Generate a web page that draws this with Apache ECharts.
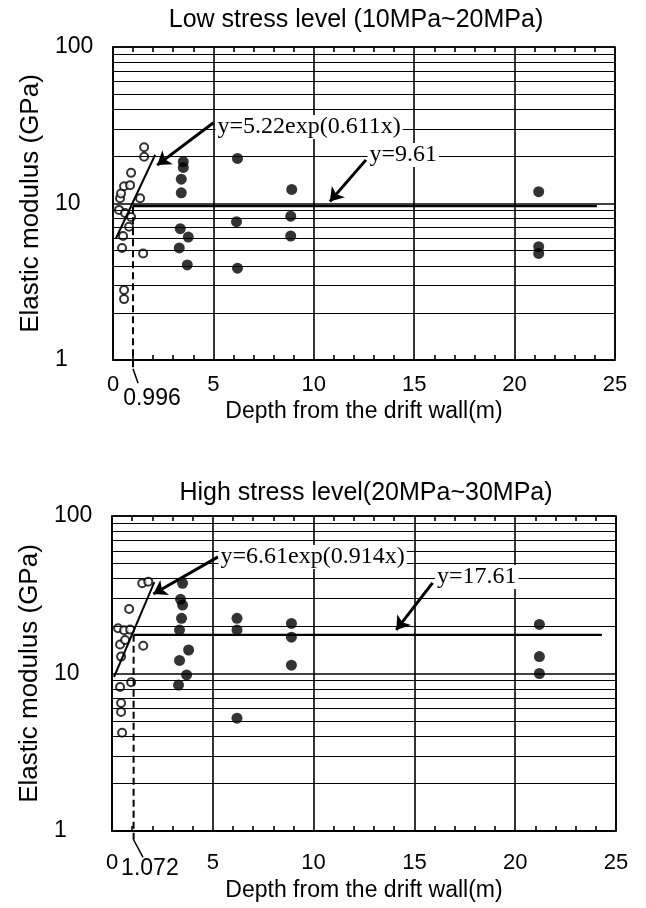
<!DOCTYPE html>
<html lang="en">
<head>
    <meta charset="UTF-8">
    <title>Elastic modulus vs depth</title>
</head>
<script src="https://cdn.jsdelivr.net/npm/echarts@6/dist/echarts.min.js"></script>
<body style="margin:0;background:#fff">
<div id="main" style="height: 908px;width: 646px"></div>
<script type="text/javascript">
    // ---- data ----
    var xTicks = [0, 5, 10, 15, 20, 25];
    var xGrid = [5, 10, 15, 20];
    var xMinor = [1, 2, 3, 4, 6, 7, 8, 9, 11, 12, 13, 14, 16, 17, 18, 19, 21, 22, 23, 24];
    var yTicks = [1, 10, 100];
    var logGrid = [2, 3, 4, 5, 6, 7, 8, 9, 20, 30, 40, 50, 60, 70, 80, 90];

    // low stress level
    var lowOpen = [[0.3, 9.1], [0.35, 10.8], [0.4, 11.6], [0.55, 12.9], [0.85, 13.1], [0.9, 15.7],
        [1.55, 22.9], [1.55, 19.9], [1.35, 10.8], [0.6, 8.7], [0.9, 8.2], [0.8, 7.1],
        [0.5, 6.2], [0.45, 5.2], [1.5, 4.8], [0.55, 2.8], [0.55, 2.45]];
    var lowFilled = [[3.5, 18.5], [3.5, 17.0], [3.4, 14.3], [3.4, 11.7], [3.35, 6.9], [3.75, 6.1],
        [3.3, 5.2], [3.7, 4.05], [6.2, 19.4], [6.15, 7.65], [6.2, 3.86], [8.9, 12.3],
        [8.85, 8.3], [8.85, 6.2], [21.2, 11.9], [21.2, 5.3], [21.2, 4.8]];
    var lowFit = [[0.15, 6.0], [2.1, 20.5]];
    var lowMean = 9.61;
    var lowMeanX = [0.996, 24.1];
    var lowCross = 0.996;

    // high stress level
    var highOpen = [[1.5, 37.4], [1.8, 38.3], [0.85, 25.7], [0.3, 19.4], [0.6, 18.8], [0.9, 19.0],
        [0.4, 15.3], [0.65, 16.3], [1.55, 15.0], [0.45, 12.8], [0.4, 8.2], [0.95, 8.8],
        [0.45, 6.5], [0.45, 5.7], [0.5, 4.2]];
    var highFilled = [[3.5, 37.4], [3.4, 29.6], [3.5, 27.2], [3.45, 22.4], [3.35, 18.9], [3.8, 14.1],
        [3.35, 12.1], [3.7, 9.8], [3.3, 8.45], [6.2, 22.4], [6.2, 18.9], [6.2, 5.2],
        [8.9, 20.8], [8.9, 17.0], [8.9, 11.3], [21.2, 20.5], [21.2, 12.8], [21.2, 10.0]];
    var highFit = [[0.1, 9.5], [2.1, 38.0]];
    var highMean = 17.61;
    var highMeanX = [1.072, 24.3];
    var highCross = 1.072;

    var titles = ['Low stress level (10MPa~20MPa)', 'High stress level(20MPa~30MPa)'];
    var fitText = ['y=5.22exp(0.611x)', 'y=6.61exp(0.914x)'];
    var meanText = ['y=9.61', 'y=17.61'];
    var crossText = ['0.996', '1.072'];

    // annotation anchors (data coords)
    var fitLabelAt = [[5.08, 30.8], [5.26, 55]];
    var fitArrow = [[[5.0, 32.8], [2.2, 17.6]], [[5.26, 55], [2.05, 32]]];
    var meanLabelAt = [[12.65, 20.4], [16.0, 41]];
    var meanArrow = [[[12.6, 19], [10.8, 10.3]], [[15.9, 37.6], [14.1, 18.9]]];
    var crossLabelAt = [[1.94, 0.57], [1.88, 0.58]];
    var crossLeader = [[0.88, 1.25, 0.71], [0.88, 1.54, 0.68]];

    var SANS = 'Liberation Sans';
    var SERIF = 'Liberation Serif';

    var myChart = echarts.init(document.getElementById('main'));

    var grids = [
        {left: 113, top: 47, width: 502, height: 313, show: true, borderColor: '#000', borderWidth: 1.5},
        {left: 112, top: 516, width: 504, height: 315, show: true, borderColor: '#000', borderWidth: 1.5}
    ];
    var labelMargin = [14, 21];
    var nameGap = [40, 48];

    var xAxes = [], yAxes = [], series = [];
    [0, 1].forEach(function (g) {
        xAxes.push({
            type: 'value', gridIndex: g, min: 0, max: 25, interval: 5, position: 'bottom',
            name: 'Depth from the drift wall(m)', nameLocation: 'middle', nameGap: nameGap[g],
            nameTextStyle: {fontFamily: SANS, fontSize: 23, color: '#000'},
            axisLine: {show: true, onZero: false, lineStyle: {color: '#000', width: 1.5}},
            axisTick: {show: false},
            axisLabel: {fontFamily: SANS, fontSize: 22, color: '#000', margin: labelMargin[g],
                formatter: function (v) { return xTicks.indexOf(v) >= 0 ? String(v) : ''; }},
            splitLine: {show: true, lineStyle: {color: '#000', width: 1.6}}
        });
        yAxes.push({
            type: 'log', logBase: 10, gridIndex: g, min: 1, max: 100,
            name: 'Elastic modulus (GPa)', nameLocation: 'middle', nameGap: 62,
            nameTextStyle: {fontFamily: SANS, fontSize: 26, color: '#000'},
            axisLine: {show: true, lineStyle: {color: '#000', width: 1.5}},
            axisTick: {show: false},
            axisLabel: {fontFamily: SANS, fontSize: 23, color: '#000', align: 'left', margin: 58,
                formatter: function (v) { return yTicks.indexOf(Math.round(v)) >= 0 ? String(Math.round(v)) : ''; }},
            splitLine: {show: true, lineStyle: {color: '#000', width: 1.5}}
        });
    });

    var sets = [
        {open: lowOpen, filled: lowFilled, fit: lowFit, mean: lowMean, meanX: lowMeanX, cross: lowCross},
        {open: highOpen, filled: highFilled, fit: highFit, mean: highMean, meanX: highMeanX, cross: highCross}
    ];

    sets.forEach(function (s, g) {
        var xi = g, yi = g;
        // gridlines: log minor rows
        series.push({
            type: 'line', xAxisIndex: xi, yAxisIndex: yi, data: [], silent: true,
            markLine: {
                silent: true, symbol: 'none', animation: false,
                label: {show: false},
                lineStyle: {color: '#000', width: 1.2, type: 'solid'},
                data: logGrid.map(function (v) { return {yAxis: v}; })
            }
        });
        // small inward ticks every metre on bottom and top edges
        var tickSegs = [];
        xMinor.forEach(function (v) {
            tickSegs.push([{coord: [v, 1]}, {coord: [v, 1.075]}]);
            tickSegs.push([{coord: [v, 100]}, {coord: [v, 93]}]);
        });
        series.push({
            type: 'line', xAxisIndex: xi, yAxisIndex: yi, data: [], silent: true,
            markLine: {
                silent: true, symbol: 'none', animation: false,
                label: {show: false},
                lineStyle: {color: '#000', width: 1.6, type: 'solid'},
                data: tickSegs
            }
        });
        // mean line
        series.push({
            type: 'line', xAxisIndex: xi, yAxisIndex: yi, symbol: 'none',
            lineStyle: {color: '#000', width: 2.2},
            data: [[s.meanX[0], s.mean], [s.meanX[1], s.mean]]
        });
        // fit line
        series.push({
            type: 'line', xAxisIndex: xi, yAxisIndex: yi, symbol: 'none',
            lineStyle: {color: '#000', width: 2},
            data: s.fit
        });
        // dashed drop line + leader
        series.push({
            type: 'line', xAxisIndex: xi, yAxisIndex: yi, symbol: 'none', clip: false,
            lineStyle: {color: '#000', width: 2, type: [7, 4]},
            data: [[s.cross, s.mean], [s.cross, crossLeader[g][0]]]
        });
        series.push({
            type: 'line', xAxisIndex: xi, yAxisIndex: yi, symbol: 'none', clip: false,
            lineStyle: {color: '#000', width: 1.5},
            data: [[s.cross, crossLeader[g][0]], [crossLeader[g][1], crossLeader[g][2]]]
        });
        // open circles
        series.push({
            type: 'scatter', xAxisIndex: xi, yAxisIndex: yi, symbol: 'circle', symbolSize: 8,
            itemStyle: {color: '#fff', borderColor: '#000', borderWidth: 2},
            data: s.open
        });
        // filled circles
        series.push({
            type: 'scatter', xAxisIndex: xi, yAxisIndex: yi, symbol: 'circle', symbolSize: 11,
            itemStyle: {color: '#000'},
            data: s.filled
        });
        // annotations
        series.push({
            type: 'line', xAxisIndex: xi, yAxisIndex: yi, data: [], silent: true,
            markLine: {
                silent: true, symbol: ['none', 'arrow'], symbolSize: 13, animation: false,
                label: {show: false},
                lineStyle: {color: '#000', width: 3, type: 'solid'},
                data: [
                    [{coord: fitArrow[g][0]}, {coord: fitArrow[g][1]}],
                    [{coord: meanArrow[g][0]}, {coord: meanArrow[g][1]}]
                ]
            },
            markPoint: {
                silent: true, symbol: 'circle', symbolSize: 1, animation: false,
                itemStyle: {color: 'rgba(0,0,0,0)'},
                data: [
                    {coord: fitLabelAt[g], label: {show: true, position: 'right', distance: 0,
                        formatter: fitText[g], fontFamily: SERIF, fontSize: 24, color: '#000',
                        backgroundColor: '#fff', padding: [0, 2]}},
                    {coord: meanLabelAt[g], label: {show: true, position: 'right', distance: 0,
                        formatter: meanText[g], fontFamily: SERIF, fontSize: 24, color: '#000',
                        backgroundColor: '#fff', padding: [0, 2]}}
                ]
            }
        });
    });

    var option = {
        animation: false,
        backgroundColor: '#fff',
        title: [
            {text: titles[0], left: 351, top: 3, textAlign: 'center',
                textStyle: {fontFamily: SANS, fontSize: 25, fontWeight: 'normal', color: '#000'}},
            {text: titles[1], left: 361, top: 476, textAlign: 'center',
                textStyle: {fontFamily: SANS, fontSize: 25, fontWeight: 'normal', color: '#000'}}
        ],
        grid: grids,
        xAxis: xAxes,
        yAxis: yAxes,
        series: series
    };
    myChart.setOption(option);

    // crossing-depth labels below the axes, placed through the chart's own scales
    var crossGraphics = [0, 1].map(function (g) {
        var p = myChart.convertToPixel({xAxisIndex: g, yAxisIndex: g}, crossLabelAt[g]);
        return {
            type: 'text', x: p[0], y: p[1],
            style: {text: crossText[g], fontFamily: SANS, fontSize: 23, fill: '#000',
                align: 'center', verticalAlign: 'middle'}
        };
    });
    myChart.setOption({graphic: crossGraphics});
</script>
</body>
</html>
